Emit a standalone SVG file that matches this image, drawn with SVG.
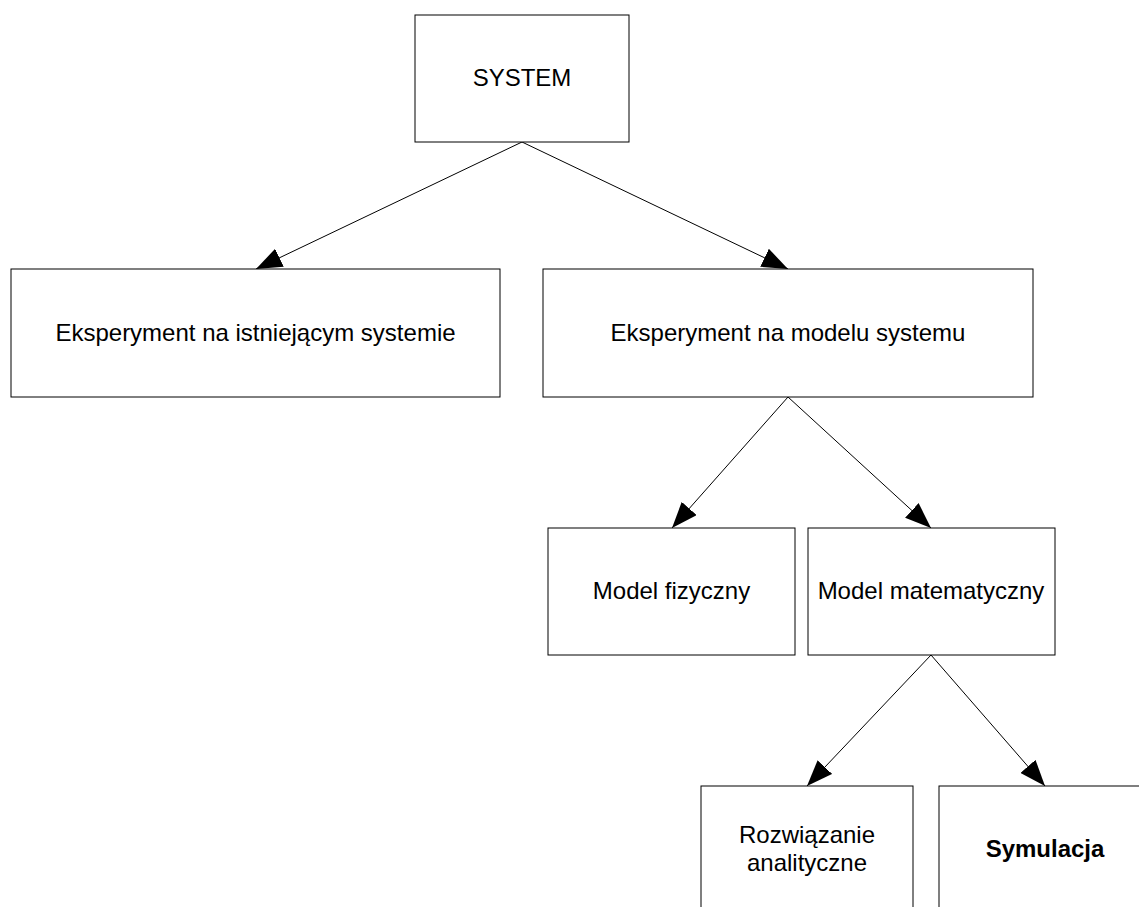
<svg xmlns="http://www.w3.org/2000/svg" width="1139" height="907" viewBox="0 0 1139 907">
  <style>
    .box { fill: #ffffff; stroke: #000000; stroke-width: 1; }
    .label { font-family: "Liberation Sans", Arial, sans-serif; font-size: 24px; fill: #000000; text-anchor: middle; }
    .bold { font-weight: bold; }
    .edge { stroke: #000000; stroke-width: 1; fill: none; marker-end: url(#arrow); }
  </style>
  <defs>
    <marker id="arrow" markerUnits="userSpaceOnUse" markerWidth="26" markerHeight="20" viewBox="0 0 26 20" refX="26" refY="10" orient="auto">
      <path d="M0,0 L26,10 L0,20 Z" fill="#000000"/>
    </marker>
  </defs>

  <rect x="0" y="0" width="1139" height="907" fill="#ffffff"/>

  <g id="connectors">
    <line class="edge" x1="522" y1="142" x2="256" y2="269"/>
    <line class="edge" x1="522" y1="142" x2="788" y2="269"/>
    <line class="edge" x1="788" y1="397" x2="672" y2="528"/>
    <line class="edge" x1="788" y1="397" x2="931" y2="528"/>
    <line class="edge" x1="931" y1="655" x2="807" y2="786"/>
    <line class="edge" x1="931" y1="655" x2="1045" y2="786"/>
  </g>

  <g id="system">
    <rect class="box" x="415" y="15" width="214" height="127"/>
    <text class="label" x="522" y="86">SYSTEM</text>
  </g>

  <g id="eksperyment-istniejacy">
    <rect class="box" x="11" y="269" width="489" height="128"/>
    <text class="label" x="255.5" y="341">Eksperyment na istniejącym systemie</text>
  </g>

  <g id="eksperyment-model">
    <rect class="box" x="543" y="269" width="490" height="128"/>
    <text class="label" x="788" y="341">Eksperyment na modelu systemu</text>
  </g>

  <g id="model-fizyczny">
    <rect class="box" x="548" y="528" width="247" height="127"/>
    <text class="label" x="671.5" y="599">Model fizyczny</text>
  </g>

  <g id="model-matematyczny">
    <rect class="box" x="808" y="528" width="247" height="127"/>
    <text class="label" x="931" y="599">Model matematyczny</text>
  </g>

  <g id="rozwiazanie-analityczne">
    <rect class="box" x="701" y="786" width="212" height="140"/>
    <text class="label" x="807" y="843">Rozwiązanie</text>
    <text class="label" x="807" y="871">analityczne</text>
  </g>

  <g id="symulacja">
    <rect class="box" x="939" y="786" width="212" height="140"/>
    <text class="label bold" x="1045" y="857">Symulacja</text>
  </g>
</svg>
